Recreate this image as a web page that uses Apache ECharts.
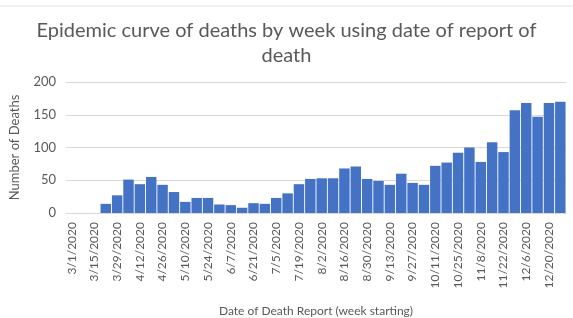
<!DOCTYPE html>
<html>
<head>
<meta charset="utf-8">
<script src="https://cdn.jsdelivr.net/npm/echarts@6/dist/echarts.min.js"></script>
<style>html,body{margin:0;padding:0;background:#fff;}#c{width:573px;height:318px;}</style>
</head>
<body>
<div id="c"></div>
<script>
var weeks = ['3/1/2020','3/8/2020','3/15/2020','3/22/2020','3/29/2020','4/5/2020','4/12/2020','4/19/2020','4/26/2020','5/3/2020','5/10/2020','5/17/2020','5/24/2020','5/31/2020','6/7/2020','6/14/2020','6/21/2020','6/28/2020','7/5/2020','7/12/2020','7/19/2020','7/26/2020','8/2/2020','8/9/2020','8/16/2020','8/23/2020','8/30/2020','9/6/2020','9/13/2020','9/20/2020','9/27/2020','10/4/2020','10/11/2020','10/18/2020','10/25/2020','11/1/2020','11/8/2020','11/15/2020','11/22/2020','11/29/2020','12/6/2020','12/13/2020','12/20/2020','12/27/2020'];
var deaths = [0,0,0,14,27,51,44,55,43,32,17,23,23,13,12,8,15,14,23,30,44,52,53,53,68,71,52,49,43,60,46,43,72,77,92,100,78,108,93,157,168,147,168,170];
var yTicks = [0,50,100,150,200];

var FONT = 'Lato, "Open Sans", sans-serif';
var chart = echarts.init(document.getElementById('c'));
chart.setOption({
  animation: false,
  title: {
    text: 'Epidemic curve of deaths by week using date of report of\ndeath',
    left: 'center', top: 13,
    textStyle: {fontFamily: FONT, fontSize: 20, fontWeight: 'normal', color: '#595959', lineHeight: 25}
  },
  graphic: [{type: 'line', shape: {x1: 0, y1: 6, x2: 573, y2: 6}, style: {stroke: '#e3e3e3', lineWidth: 1}}],
  grid: {left: 63, right: 7, top: 82, bottom: 105},
  xAxis: {
    type: 'category', data: weeks,
    name: 'Date of Death Report (week starting)', nameLocation: 'middle', nameGap: 92,
    nameTextStyle: {fontFamily: FONT, fontSize: 12, color: '#595959'},
    axisLine: {lineStyle: {color: '#d9d9d9'}},
    axisTick: {show: false},
    axisLabel: {interval: 1, rotate: 90, margin: 9, fontFamily: FONT, fontSize: 12, color: '#595959'}
  },
  yAxis: {
    type: 'value', min: yTicks[0], max: yTicks[yTicks.length - 1], interval: 50,
    name: 'Number of Deaths', nameLocation: 'middle', nameGap: 45,
    nameTextStyle: {fontFamily: FONT, fontSize: 13, color: '#595959'},
    axisLine: {show: false}, axisTick: {show: false},
    axisLabel: {margin: 10, fontFamily: FONT, fontSize: 13, color: '#595959'},
    splitLine: {lineStyle: {color: '#d9d9d9'}}
  },
  series: [{
    type: 'bar', data: deaths, barCategoryGap: '8%',
    itemStyle: {color: '#4472c4'}
  }]
});
</script>
</body>
</html>
